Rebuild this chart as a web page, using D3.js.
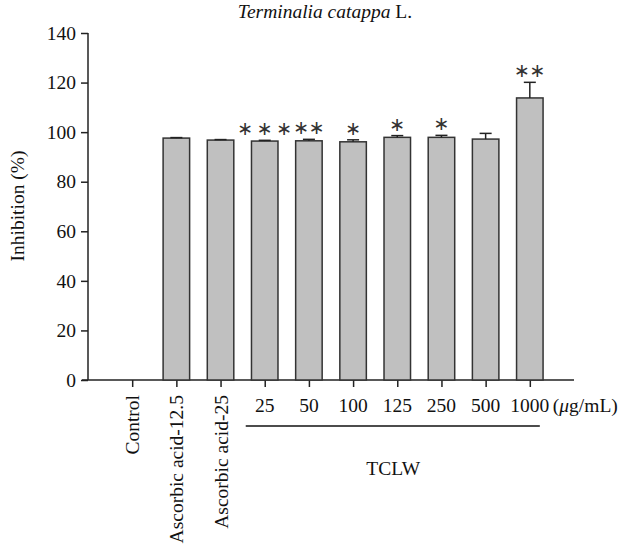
<!DOCTYPE html>
<html><head><meta charset="utf-8">
<script src="https://cdn.jsdelivr.net/npm/d3@7"></script>
<style>body{margin:0;background:#fff}svg text{font-family:'Liberation Serif','Times New Roman',serif;fill:#111}</style>
</head><body><svg id="c" width="627" height="554"></svg>
<script>
const categories = ["Control","Ascorbic acid-12.5","Ascorbic acid-25","25","50","100","125","250","500","1000"];
const rotatedLabel = [true,true,true,false,false,false,false,false,false,false];
const values = [0, 97.6, 96.8, 96.4, 96.5, 96.1, 97.9, 97.9, 97.2, 113.8];
const errors = [0, 0.2, 0.2, 0.3, 0.6, 0.8, 0.7, 0.8, 2.3, 6.3];
const stars = ["", "", "", "***", "**", "*", "*", "*", "", "**"];
const yTicks = [0,20,40,60,80,100,120,140];
const groupIdx = [3, 9];

const svg = d3.select("#c");
const x = d3.scalePoint().domain(categories).range([88, 574]).padding(1);
const y = d3.scaleLinear().domain([0,140]).range([380, 33]);
const bw = x.step()*0.6;
const fs = 19.5;

// y axis
const ya = svg.append("g").attr("transform","translate(88,0)")
  .call(d3.axisLeft(y).tickValues(yTicks).tickSize(7).tickPadding(5));
ya.select(".domain").attr("stroke","#222").attr("stroke-width",1.5).attr("d","M0,33V380");
ya.selectAll(".tick line").attr("stroke","#222").attr("stroke-width",1.5);
ya.selectAll(".tick text").attr("font-size",fs).attr("font-family",null).attr("fill","#111");

// x axis
const xa = svg.append("g").attr("transform","translate(0,380)")
  .call(d3.axisBottom(x).tickSize(7).tickFormat(""));
xa.select(".domain").attr("stroke","#222").attr("stroke-width",1.5).attr("d","M82,0H574");
xa.selectAll(".tick line").attr("stroke","#222").attr("stroke-width",1.5);

// bars
svg.append("g").selectAll("rect").data(categories).join("rect")
  .attr("x", d=>x(d)-bw/2).attr("width", bw)
  .attr("y", (d,i)=>y(values[i])).attr("height",(d,i)=>y(0)-y(values[i]))
  .attr("fill","#c0c0c0").attr("stroke","#333").attr("stroke-width",1.5)
  .style("display",(d,i)=>values[i]>0?null:"none");

// error bars
const eg = svg.append("g").attr("stroke","#222").attr("stroke-width",1.5);
categories.forEach((c,i)=>{
  if(!values[i]) return;
  const cx = x(c), top = y(values[i]+errors[i]);
  eg.append("line").attr("x1",cx).attr("x2",cx).attr("y1",y(values[i])).attr("y2",top);
  eg.append("line").attr("x1",cx-6).attr("x2",cx+6).attr("y1",top).attr("y2",top);
});

// stars
const sg = svg.append("g");
categories.forEach((c,i)=>{
  const n = stars[i].length; if(!n) return;
  const sp = n===3 ? 19.5 : 15.5;
  const cy = y(values[i]+errors[i]) - 12;
  for(let k=0;k<n;k++){
    sg.append("text").attr("x", x(c) + (k-(n-1)/2)*sp).attr("y", cy)
      .attr("text-anchor","middle").attr("dominant-baseline","central")
      .style("font-family","'DejaVu Sans',sans-serif").attr("font-size",19).style("fill","#333")
      .text("∗");
  }
});

// x labels
const xl = svg.append("g");
categories.forEach((c,i)=>{
  if(rotatedLabel[i]){
    xl.append("text").attr("transform",`translate(${x(c)+7},395) rotate(-90)`)
      .attr("text-anchor","end").attr("font-size",fs).text(c);
  } else {
    xl.append("text").attr("x",x(c)).attr("y",412).attr("text-anchor","middle")
      .attr("font-size",fs).text(c);
  }
});
const last = categories[categories.length-1];
const unit = xl.append("text").attr("x",x(last)+23).attr("y",412).attr("font-size",fs);
unit.append("tspan").text("(");
unit.append("tspan").attr("font-style","italic").text("μ");
unit.append("tspan").text("g/mL)");

// group line and label
const g0 = x(categories[groupIdx[0]]), g1 = x(categories[groupIdx[1]]);
svg.append("line").attr("x1",g0-19).attr("x2",g1+10).attr("y1",426).attr("y2",426)
  .attr("stroke","#111").attr("stroke-width",1.5);
svg.append("text").attr("x",(g0+g1)/2-4).attr("y",475).attr("text-anchor","middle")
  .attr("font-size",fs).text("TCLW");

// y label
svg.append("text").attr("transform","translate(24,206) rotate(-90)")
  .attr("text-anchor","middle").attr("font-size",fs).text("Inhibition (%)");

// title
const t = svg.append("text").attr("x",325).attr("y",18).attr("text-anchor","middle").attr("font-size",fs);
t.append("tspan").attr("font-style","italic").text("Terminalia catappa");
t.append("tspan").text(" L.");
</script></body></html>
